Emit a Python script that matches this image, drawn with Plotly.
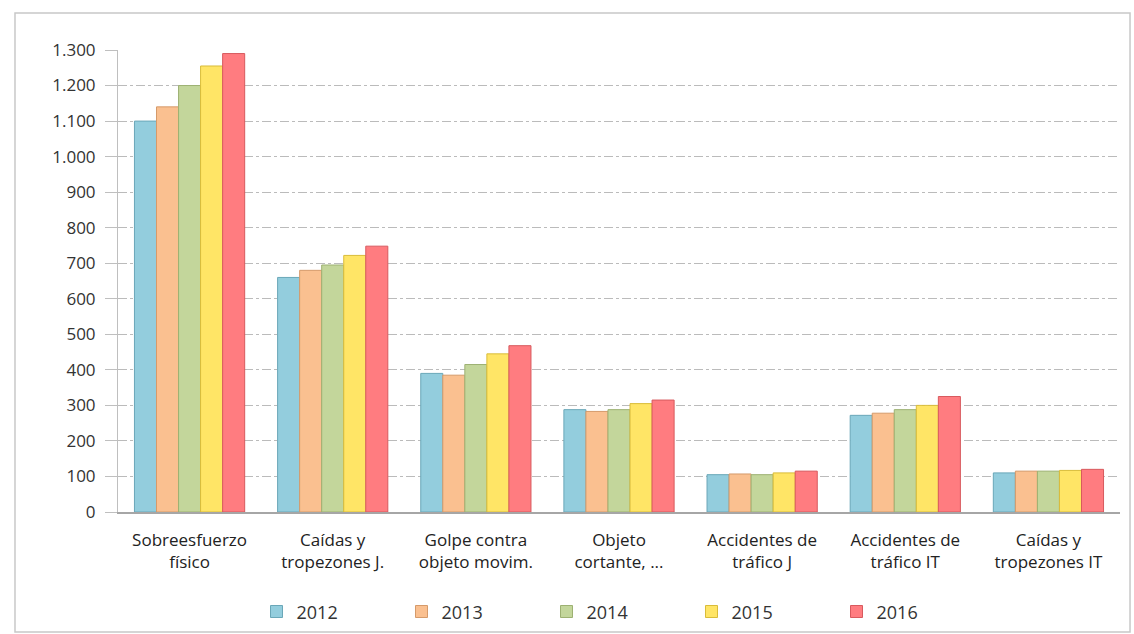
import plotly.graph_objects as go

categories = ["Sobreesfuerzo<br>físico", "Caídas y<br>tropezones J.", "Golpe contra<br>objeto movim.",
              "Objeto<br>cortante, ...", "Accidentes de<br>tráfico J", "Accidentes de<br>tráfico IT",
              "Caídas y<br>tropezones IT"]
years = ["2012", "2013", "2014", "2015", "2016"]
v2012 = [1100, 660, 390, 288, 105, 272, 110]
v2013 = [1140, 680, 385, 283, 107, 278, 115]
v2014 = [1200, 695, 415, 288, 105, 288, 115]
v2015 = [1255, 722, 445, 305, 110, 300, 117]
v2016 = [1290, 748, 468, 315, 115, 325, 120]
series = [v2012, v2013, v2014, v2015, v2016]
colors = ["#93CDDD", "#FAC090", "#C3D69B", "#FFE566", "#FF7C80"]
edges = ["#6AA7B8", "#D59A6A", "#9DB172", "#D9BC3A", "#D85A5E"]

fig = go.Figure()
for name, vals, c, e in zip(years, series, colors, edges):
    fig.add_trace(go.Bar(x=categories, y=vals, name=name,
                         marker=dict(color=c, line=dict(color=e, width=1))))

fig.update_layout(
    width=1134, height=634,
    margin=dict(l=118, r=14, t=50, b=122, autoexpand=False),
    paper_bgcolor="white", plot_bgcolor="white",
    barmode="group", bargap=0.23, bargroupgap=0.0,
    separators=",.",
    font=dict(family="'Open Sans', sans-serif", size=15, color="#333333"),
    legend=dict(orientation="h", xref="paper", x=0.5, xanchor="center",
                yref="container", y=0.035, yanchor="middle",
                bgcolor="rgba(0,0,0,0)",
                font=dict(size=18, color="#333333"), entrywidth=100, entrywidthmode="pixels",
                itemclick=False),
    shapes=[dict(type="rect", xref="paper", yref="paper",
                 x0=-0.1028, x1=1.01, y0=-0.26, y1=1.08,
                 line=dict(color="#C8C8C8", width=1.5), layer="below")],
)
fig.update_yaxes(range=[0, 1300], dtick=100, tickformat=",d",
                 showgrid=True, gridcolor="#BBBBBB", griddash="dashdot", gridwidth=1,
                 showline=True, linecolor="#BFBFBF", linewidth=1,
                 ticks="outside", tickcolor="#BFBFBF", ticklen=12,
                 ticklabelstandoff=6,
                 tickfont=dict(size=17, color="#333333"), zeroline=False)
fig.update_xaxes(showline=True, linecolor="#A6A6A6", linewidth=1.5,
                 ticklabelstandoff=12,
                 tickfont=dict(size=17, color="#222222"), ticks="")
fig.write_html("out.html")
